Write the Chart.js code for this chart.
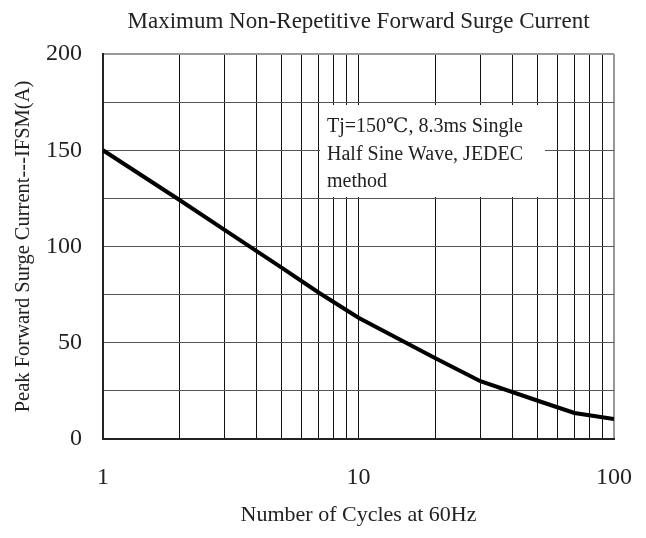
<!DOCTYPE html>
<html>
<head>
<meta charset="utf-8">
<script src="https://cdn.jsdelivr.net/npm/chart.js@4"></script>
<style>
  html, body { margin: 0; padding: 0; background: #fff; }
  #wrap { width: 646px; height: 538px; }
</style>
</head>
<body>
<div id="wrap"><canvas id="surge"></canvas></div>
<script>
// values
const cycles = [1, 2, 3, 5, 7, 10, 20, 30, 50, 70, 100];
const ifsm = [150, 124, 108.5, 89, 76, 63, 42, 30, 20, 13.5, 10.4];

const xGridValues = [1, 2, 3, 4, 5, 6, 7, 8, 9, 10, 20, 30, 40, 50, 60, 70, 80, 90, 100];
const xTickLabels = ['1', '10', '100'];
const yTickLabels = ['0', '50', '100', '150', '200'];
const noteLines = ['Tj=150\u2103, 8.3ms Single', 'Half Sine Wave, JEDEC', 'method'];

const serif = "'Liberation Serif', 'DejaVu Serif', serif";

// white note box over the grid, top left corner given relative to the plot area
const notePlugin = {
  id: 'note',
  afterDatasetsDraw(chart) {
    const ctx = chart.ctx;
    const a = chart.chartArea;
    const x = a.left + 217, y = a.top + 51;
    ctx.save();
    ctx.fillStyle = '#fff';
    ctx.fillRect(x, y, 225, 92);
    ctx.fillStyle = '#222';
    ctx.font = '20px ' + serif;
    ctx.textBaseline = 'alphabetic';
    noteLines.forEach(function(t, i) {
      ctx.fillText(t, x + 7, y + 27 + i * 27.5);
    });
    ctx.restore();
  }
};

const chart = new Chart(document.getElementById('surge'), {
  type: 'line',
  data: {
    datasets: [{
      data: cycles.map((c, i) => ({x: c, y: ifsm[i]})),
      borderColor: '#000',
      borderWidth: 4,
      pointRadius: 0,
      tension: 0,
      fill: false
    }]
  },
  options: {
    responsive: true,
    maintainAspectRatio: false,
    animation: false,
    layout: { padding: { left: 0, right: 32, top: 0, bottom: 0 } },
    plugins: {
      legend: { display: false },
      tooltip: { enabled: false },
      title: {
        display: true,
        fullSize: false,
        text: 'Maximum Non-Repetitive Forward Surge Current',
        color: '#222',
        font: { family: serif, size: 23, weight: 'normal' },
        padding: { top: 8, bottom: 18.4 }
      }
    },
    scales: {
      x: {
        type: 'logarithmic',
        min: 1,
        max: 100,
        afterBuildTicks: (axis) => { axis.ticks = xGridValues.map(v => ({value: v})); },
        afterFit: (scale) => {
          scale.height = 99;
          scale.paddingLeft = 0;
          scale.paddingRight = 0;
        },
        grid: {
          drawTicks: false,
          color: (c) => c.tick && c.tick.value === 100 ? '#999' : '#111',
          lineWidth: (c) => c.tick && c.tick.value === 100 ? 2 : 1
        },
        border: { display: true, color: '#222', width: 2 },
        ticks: {
          autoSkip: false,
          maxRotation: 0,
          padding: 24,
          color: '#222',
          font: { family: serif, size: 24 },
          callback: (v) => xTickLabels.includes(String(v)) ? String(v) : ''
        },
        title: {
          display: true,
          text: 'Number of Cycles at 60Hz',
          color: '#222',
          font: { family: serif, size: 22 },
          padding: { top: 0, bottom: 10 }
        }
      },
      y: {
        min: 0,
        max: 200,
        afterFit: (scale) => { scale.width = 103; },
        grid: {
          drawTicks: false,
          color: (c) => c.tick && c.tick.value === 200 ? '#999' : '#555',
          lineWidth: (c) => c.tick && c.tick.value === 200 ? 2 : 1
        },
        border: { display: true, color: '#222', width: 2 },
        ticks: {
          stepSize: 25,
          padding: 21,
          color: '#222',
          font: { family: serif, size: 24 },
          callback: (v) => yTickLabels.includes(String(v)) ? String(v) : ''
        },
        title: {
          display: true,
          text: 'Peak Forward Surge Current---IFSM(A)',
          color: '#222',
          font: { family: serif, size: 20.5 },
          padding: { top: 11, bottom: 0 }
        }
      }
    }
  },
  plugins: [notePlugin]
});
</script>
</body>
</html>
